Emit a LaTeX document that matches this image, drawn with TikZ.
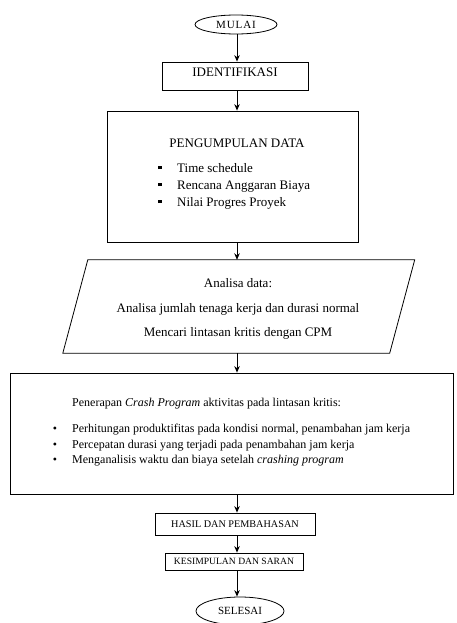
\documentclass[tikz,border=0pt]{standalone}
\usepackage{fontspec}
\setmainfont{Liberation Serif}
\usetikzlibrary{shapes.geometric,arrows.meta}
\begin{document}
\begin{tikzpicture}[x=1pt,y=-1pt,
  box/.style={draw,line width=0.8pt,rectangle,inner sep=0pt},
  oval/.style={draw,line width=0.8pt,ellipse,inner sep=0pt},
  flow/.style={line width=0.9pt,-{Stealth[length=6.5pt,width=5.5pt]}},
  txt/.style={inner sep=0pt,font=\fontsize{13}{15}\selectfont},
  stxt/.style={inner sep=0pt,font=\fontsize{12}{14}\selectfont}]
\useasboundingbox (0,0) rectangle (456,623);
\clip (0,0) rectangle (456,623);
\coordinate (colx) at (237,0);
% shapes
\node[oval,minimum width=82pt,minimum height=19pt,font=\fontsize{11}{13}\selectfont] (mulai) at (236,24.5) {\addfontfeature{LetterSpace=8}MULAI};
\node[box,minimum width=146pt,minimum height=28pt] (ident) at (235,76) {};
\node[txt,anchor=base] (identt) at (235,77) {IDENTIFIKASI};
\node[box,minimum width=251pt,minimum height=131pt] (peng) at (232.5,176.5) {};
\node[txt,anchor=base] (pengt) at (237,147) {PENGUMPULAN DATA};
\node[inner sep=0pt] (pb1) at (160,167.5) {\rule{3.2pt}{3.2pt}};
\node[inner sep=0pt] (pb2) at (160,184.5) {\rule{3.2pt}{3.2pt}};
\node[inner sep=0pt] (pb3) at (160,201.5) {\rule{3.2pt}{3.2pt}};
\node[txt,anchor=base west] (p1) at (177,172) {Time schedule};
\node[txt,anchor=base west] (p2) at (177,189) {Rencana Anggaran Biaya};
\node[txt,anchor=base west] (p3) at (177,206) {Nilai Progres Proyek};
% parallelogram
\node[inner sep=0pt,minimum width=326.5pt,minimum height=93pt] (par) at (238.75,306.5) {};
\draw[line width=0.8pt] ([xshift=12.5pt]par.north west) -- ([xshift=12.5pt]par.north east)
  -- ([xshift=-12.5pt]par.south east) -- ([xshift=-12.5pt]par.south west) -- cycle;
\node[txt,anchor=base] (a1) at (238,287) {Analisa data:};
\node[txt,anchor=base] (a2) at (238,312) {Analisa jumlah tenaga kerja dan durasi normal};
\node[txt,anchor=base] (a3) at (238,336) {Mencari lintasan kritis dengan CPM};
% crash box
\node[box,minimum width=443pt,minimum height=121pt] (crash) at (231.5,433.5) {};
\node[stxt,anchor=base west] (c0) at (72,406) {Penerapan \textit{Crash Program} aktivitas pada lintasan kritis:};
\node[stxt,anchor=base] (cb1) at (55,432) {•};
\node[stxt,anchor=base] (cb2) at (55,448) {•};
\node[stxt,anchor=base] (cb3) at (55,463) {•};
\node[stxt,anchor=base west] (c1) at (72,432) {Perhitungan produktifitas pada kondisi normal, penambahan jam kerja};
\node[stxt,anchor=base west] (c2) at (72,448) {Percepatan durasi yang terjadi pada penambahan jam kerja};
\node[stxt,anchor=base west] (c3) at (72,463) {Menganalisis waktu dan biaya setelah \textit{crashing program}};
% bottom boxes
\node[box,minimum width=160pt,minimum height=22pt,font=\fontsize{10.2}{12}\selectfont] (hasil) at (235,524) {HASIL DAN PEMBAHASAN};
\node[box,minimum width=138pt,minimum height=17pt,font=\fontsize{9.6}{11}\selectfont] (kes) at (234,561.5) {KESIMPULAN DAN SARAN};
\node[oval,minimum width=88pt,minimum height=28pt,font=\fontsize{11}{13}\selectfont] (selesai) at (240,611) {SELESAI};
% connectors
\draw[flow] (mulai.south -| colx) -- (ident.north -| colx);
\draw[flow] (ident.south -| colx) -- (peng.north -| colx);
\draw[flow] (peng.south -| colx) -- (par.north -| colx);
\draw[flow] (par.south -| colx) -- (crash.north -| colx);
\draw[flow] (crash.south -| colx) -- (hasil.north -| colx);
\draw[flow] (hasil.south -| colx) -- (kes.north -| colx);
\draw[flow] (kes.south -| colx) -- (selesai.north -| colx);
\end{tikzpicture}
\end{document}
